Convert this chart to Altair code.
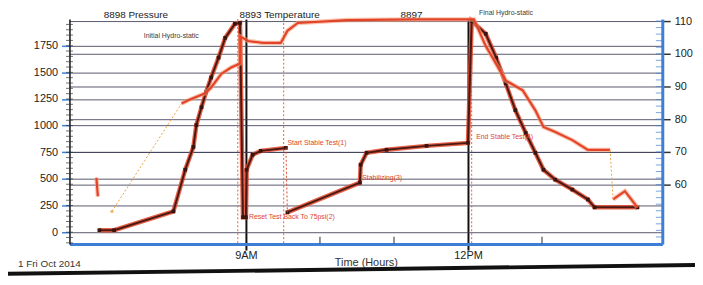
import altair as alt
import pandas as pd

# ---- pressure gauge 8898 (psi) ----
p_time = [7.02, 7.22, 8.02, 8.18, 8.29, 8.33, 8.40, 8.46, 8.53, 8.63, 8.72, 8.85, 8.92, 8.96, 9.00, 9.01, 9.09, 9.20, 9.54,
          9.56, 10.54, 10.55, 10.63, 10.90, 11.44, 12.00, 12.05, 12.24, 12.38, 12.51, 12.64, 12.78, 12.91, 13.02,
          13.18, 13.41, 13.62, 13.71, 14.29]
p_val = [19, 19, 195, 586, 800, 1005, 1173, 1312, 1452, 1638, 1824, 1955, 1964, 140, 140, 586, 726, 763, 791,
         186, 465, 633, 745, 773, 810, 838, 1982, 1862, 1638, 1396, 1145, 931, 745, 586,
         493, 400, 307, 233, 233]
p_seg = [0] * 19 + [1] * 20

# ---- temperature gauge 8893 (deg) ----
t_time = [6.98, 6.99, 7.00, 7.19, 8.13, 8.22, 8.45, 8.53, 8.67, 8.80, 8.92, 8.93, 9.03, 9.23, 9.47, 9.56, 9.70,
          10.37, 11.30, 11.97, 12.08, 12.24, 12.51, 12.74, 12.91, 13.02, 13.18, 13.41, 13.62, 13.92,
          13.96, 14.12, 14.29]
t_val = [62.1, 59.1, 56.4, 51.8, 84.8, 85.8, 87.9, 89.7, 93.9, 95.8, 97.0, 105.2, 103.9, 103.3, 103.3, 107.0, 109.4,
         110.3, 110.5, 110.5, 110.5, 102.4, 91.8, 88.8, 82.7, 77.6, 76.1, 73.6, 70.6, 70.6,
         55.5, 58.0, 53.0]
t_seg = [0, 0, 0, 1] + [2] * 26 + [3] * 3

# gaps in the records (drawn dotted)
tgap_time = [7.19, 8.13, 13.92, 13.96]
tgap_val = [51.8, 84.8, 70.6, 55.5]
tgap_id = [0, 0, 1, 1]
pgap_time = [9.54, 9.56]
pgap_val = [791, 186]

# event markers
ev_time = [8.89, 9.51, 12.05]

# annotations
ann_time = [7.62, 9.04, 9.56, 10.57, 12.11]
ann_val = [1843, 140, 838, 512, 893]
ann_text = ["Initial Hydro-static", "Reset Test Back To 75psi(2)", "Start Stable Test(1)",
            "Stabilizing(3)", "End Stable Test(4)"]
ann_color = ["#3a3a3a", "#e0452c", "#e0452c", "#e0452c", "#e0452c"]

x_ticks = [9, 12]
x_minor = [10, 11, 13]
p_ticks = [0, 250, 500, 750, 1000, 1250, 1500, 1750]
p_minor = list(range(-100, 2000, 50))
t_ticks = [60, 70, 80, 90, 100, 110]
t_minor = list(range(42, 111, 2))

pdf = pd.DataFrame({"t": p_time, "p": p_val, "seg": p_seg})
tdf = pd.DataFrame({"t": t_time, "v": t_val, "seg": t_seg})
tgap = pd.DataFrame({"t": tgap_time, "v": tgap_val, "id": tgap_id})
pgap = pd.DataFrame({"t": pgap_time, "p": pgap_val})
evdf = pd.DataFrame({"t": ev_time})
anndf = pd.DataFrame({"t": ann_time, "p": ann_val, "label": ann_text, "c": ann_color})

FONT = "Liberation Sans"

X = alt.X("t:Q", scale=alt.Scale(domain=[6.616, 14.625], nice=False, zero=False),
          axis=alt.Axis(values=x_ticks, labelExpr="datum.value == 9 ? '9AM' : '12PM'",
                        grid=True, gridColor="#111111", gridWidth=2,
                        domainColor="#3d7fd6", domainWidth=3, tickColor="#111111", tickWidth=2,
                        tickSize=6, labelPadding=0, labelFontSize=11, labelColor="#222222",
                        title="Time (Hours)", titleFontSize=11, titleFontWeight="normal",
                        titleColor="#333333", titleY=19, titleBaseline="middle"))

YP = alt.Y("p:Q", scale=alt.Scale(domain=[-112, 2000], nice=False, zero=False),
           axis=alt.Axis(values=p_ticks, format="d", orient="left", grid=True, gridColor="#3c3c55",
                         gridWidth=1, gridOpacity=0.85, domainColor="#111111", domainWidth=1.5,
                         tickColor="#3d7fd6", tickSize=8, tickWidth=1.5, labelPadding=4,
                         labelFontSize=11, labelColor="#222222", title=None))

YT = alt.Y("v:Q", scale=alt.Scale(domain=[41.8, 110.6], nice=False, zero=False),
           axis=alt.Axis(values=t_ticks, format="d", orient="right", grid=True, gridColor="#3c3c55",
                         gridWidth=1, gridOpacity=0.85, domainColor="#3d7fd6", domainWidth=3,
                         tickColor="#333333", tickSize=8, tickWidth=1.5, labelPadding=4,
                         labelFontSize=11, labelColor="#222222", title=None))

# ---- pressure group ----
ev = alt.Chart(evdf).mark_rule(color="#e8603c", strokeDash=[2, 2], strokeWidth=1).encode(x=X)
p_halo = alt.Chart(pdf).mark_line(color="#e4462c", strokeWidth=4.5, opacity=0.85).encode(
    x=X, y=YP, detail="seg:N", order="t:Q")
p_line = alt.Chart(pdf).mark_line(color="#4a1a12", strokeWidth=2).encode(
    x=X, y=YP, detail="seg:N", order="t:Q")
p_pts = alt.Chart(pdf).mark_point(shape="square", filled=True, color="#3a140e", size=14, opacity=1).encode(
    x=X, y=YP)
p_gap = alt.Chart(pgap).mark_line(color="#e4462c", strokeDash=[2, 2], strokeWidth=1).encode(x=X, y=YP)
ann = alt.Chart(anndf).mark_text(align="left", baseline="middle", fontSize=7, font=FONT).encode(
    x=X, y=YP, text="label:N", color=alt.Color("c:N", scale=None))

p_minor_ticks = alt.Chart(pd.DataFrame({"p": p_minor})).mark_tick(
    color="#333333", size=7, thickness=1).encode(y=YP, x=alt.value(0))
x_minor_ticks = alt.Chart(pd.DataFrame({"t": x_minor})).mark_tick(
    color="#333333", size=7, thickness=1.5).encode(x=X, y=alt.value(223))

final_lbl = alt.Chart(pd.DataFrame({"t": [12.15], "label": ["Final Hydro-static"]})).mark_text(
    align="left", baseline="middle", fontSize=7, font=FONT, color="#3a3a3a").encode(
    x=X, y=alt.value(-6), text="label:N")

def header(txt, px):
    return alt.Chart(pd.DataFrame({"label": [txt]})).mark_text(
        align="center", baseline="middle", fontSize=10, font=FONT, color="#222222").encode(
        x=alt.value(px), y=alt.value(-4), text="label:N")

hdrs = [header("8898 Pressure", 67), header("8893 Temperature", 212), header("8897", 345)]

date_lbl = alt.Chart(pd.DataFrame({"label": ["1 Fri Oct 2014"]})).mark_text(
    align="left", baseline="middle", fontSize=10, font=FONT, color="#333333").encode(
    x=alt.value(-52), y=alt.value(247), text="label:N")

table_line = alt.Chart(pd.DataFrame({"a": [0]})).mark_rule(color="#111111", strokeWidth=4).encode(
    x=alt.value(-62), x2=alt.value(633), y=alt.value(257), y2=alt.value(248))

pressure_group = alt.layer(ev, p_minor_ticks, x_minor_ticks, p_halo, p_line, p_pts, p_gap, ann,
                           final_lbl, *hdrs, date_lbl, table_line)

# ---- temperature group ----
t_halo = alt.Chart(tdf).mark_line(color="#f4a07a", strokeWidth=4.5, opacity=0.6).encode(
    x=X, y=YT, detail="seg:N", order="t:Q")
t_line = alt.Chart(tdf).mark_line(color="#e4432a", strokeWidth=2.2).encode(
    x=X, y=YT, detail="seg:N", order="t:Q")
t_gap = alt.Chart(tgap).mark_line(color="#f0a040", strokeDash=[2, 2], strokeWidth=1).encode(
    x=X, y=YT, detail="id:N")
t_pt = alt.Chart(tdf).transform_filter("datum.seg == 1").mark_point(
    color="#f0a040", size=12, filled=True).encode(x=X, y=YT)
t_minor_ticks = alt.Chart(pd.DataFrame({"v": t_minor})).mark_tick(
    color="#3d7fd6", size=7, thickness=1).encode(y=YT, x=alt.value(595))

temp_group = alt.layer(t_minor_ticks, t_halo, t_line, t_gap, t_pt)

chart = alt.layer(pressure_group, temp_group).resolve_scale(y="independent").properties(
    width=598, height=227,
    autosize=alt.AutoSizeParams(type="none"),
    padding={"left": 62, "top": 10, "right": 33, "bottom": 32},
    background="#ffffff",
).configure_view(strokeWidth=0).configure_axis(labelFont=FONT, titleFont=FONT)

chart.save("out.html", embed_options={"renderer": "svg", "actions": False})
